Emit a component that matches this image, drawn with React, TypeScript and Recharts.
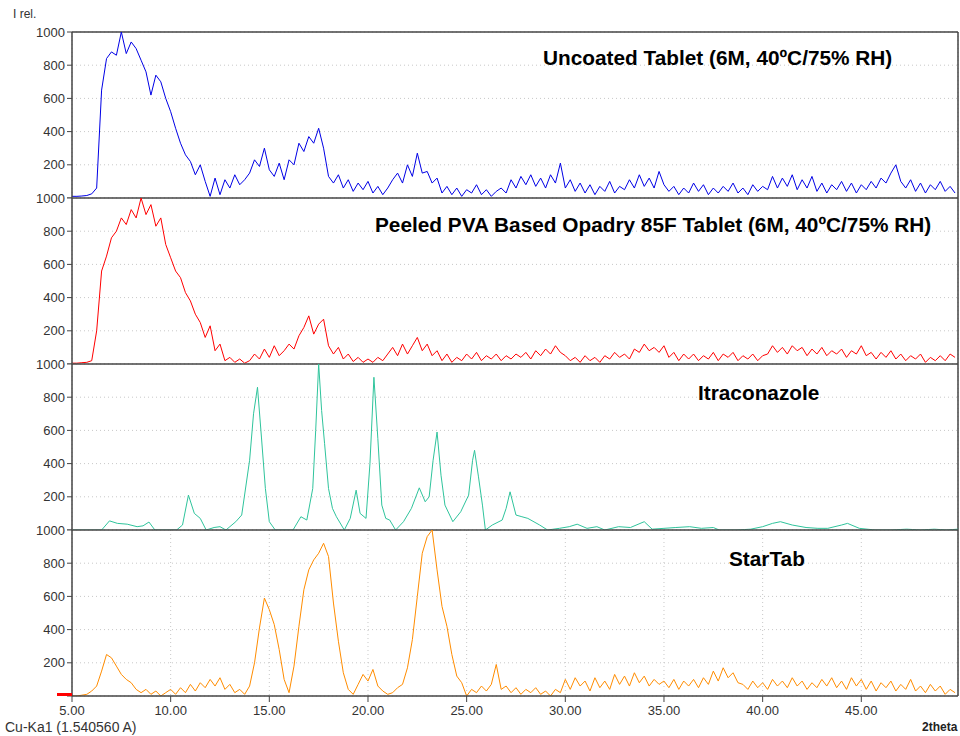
import { LineChart, Line, XAxis, YAxis, CartesianGrid, ReferenceLine } from "recharts";

// scan grid of the three noisy patterns: start angle and step (deg 2theta)
const scanStart = 5;
const scanStep = 0.25;

const uncoated = [
  10, 10, 12, 15, 25, 60, 650, 840, 880, 860, 1000, 870, 940, 900, 830, 760,
  620, 740, 700, 600, 520, 420, 330, 260, 220, 140, 200, 100, 10, 120, 20, 110,
  60, 140, 80, 110, 150, 230, 190, 300, 170, 130, 210, 110, 230, 200, 330, 280,
  370, 330, 420, 300, 130, 90, 140, 60, 110, 40, 90, 50, 100, 30, 70, 20,
  60, 110, 150, 90, 200, 130, 270, 150, 160, 90, 120, 30, 70, 20, 60, 10,
  50, 30, 80, 20, 50, 10, 40, 60, 30, 110, 60, 130, 80, 140, 70, 120,
  60, 140, 90, 210, 60, 110, 40, 90, 30, 80, 20, 70, 40, 100, 30, 70,
  50, 110, 60, 140, 70, 120, 60, 160, 80, 40, 70, 20, 60, 30, 90, 40,
  80, 20, 60, 30, 70, 40, 90, 30, 60, 20, 80, 40, 70, 50, 130, 60,
  120, 70, 140, 50, 110, 60, 130, 40, 90, 30, 80, 50, 100, 40, 90, 30,
  80, 50, 100, 60, 120, 90, 150, 200, 100, 60, 110, 40, 90, 30, 80, 50,
  100, 40, 70, 30,
];

const peeled = [
  5, 5, 8, 10, 20, 200, 560, 650, 760, 800, 880, 840, 930, 880, 1000, 900,
  960, 830, 880, 720, 640, 560, 520, 430, 380, 300, 250, 160, 230, 80, 120, 20,
  40, 10, 30, 5, 20, 60, 30, 90, 40, 110, 50, 80, 120, 90, 170, 220,
  290, 180, 240, 270, 110, 60, 100, 30, 60, 15, 40, 10, 30, 10, 40, 20,
  60, 100, 50, 120, 60, 110, 160, 80, 120, 50, 80, 20, 60, 10, 40, 20,
  60, 30, 70, 20, 50, 30, 60, 20, 50, 30, 60, 40, 70, 30, 80, 50,
  90, 60, 110, 70, 50, 20, 40, 10, 50, 20, 40, 10, 50, 30, 70, 40,
  60, 30, 90, 70, 120, 80, 100, 70, 110, 40, 70, 20, 60, 30, 60, 20,
  50, 30, 70, 20, 60, 40, 70, 20, 50, 30, 60, 20, 50, 60, 110, 70,
  100, 60, 110, 80, 100, 50, 90, 60, 100, 50, 80, 60, 90, 40, 80, 60,
  110, 50, 70, 30, 70, 40, 80, 30, 60, 20, 50, 30, 60, 10, 40, 20,
  50, 20, 60, 40,
];

const starTab = [
  0, 0, 5, 10, 30, 60, 150, 250, 230, 180, 130, 100, 80, 40, 20, 40,
  10, 30, 0, 20, 40, 10, 50, 20, 70, 30, 80, 50, 100, 60, 110, 40,
  70, 20, 40, 10, 60, 200, 410, 590, 520, 430, 280, 100, 20, 180, 420, 640,
  760, 820, 860, 920, 840, 560, 330, 140, 40, 10, 70, 130, 90, 160, 60, 30,
  10, 20, 50, 70, 170, 340, 600, 860, 960, 1000, 760, 540, 420, 250, 120, 80,
  0, 40, 20, 60, 30, 70, 190, 40, 60, 20, 50, 10, 40, 20, 50, 10,
  30, 0, 40, 20, 100, 40, 110, 60, 90, 30, 110, 50, 90, 40, 130, 70,
  120, 60, 140, 80, 120, 60, 100, 70, 90, 50, 100, 40, 90, 60, 100, 50,
  110, 70, 150, 90, 170, 110, 140, 80, 70, 40, 90, 50, 80, 40, 100, 60,
  90, 50, 110, 60, 90, 40, 80, 50, 100, 60, 110, 50, 90, 40, 110, 60,
  100, 40, 90, 30, 80, 50, 90, 30, 70, 40, 100, 30, 60, 20, 70, 30,
  60, 10, 40, 20,
];

// itraconazole is smooth with sharp peaks, read as (angle, intensity) points
const itraAngles = [
  5.0, 6.5, 6.9, 7.3, 7.8, 8.3, 8.6, 8.9, 9.2, 10.3, 10.6, 10.9, 11.2, 11.5, 11.8, 12.2,
  12.5, 12.8, 13.3, 13.6, 14.0, 14.2, 14.4, 14.6, 14.8, 15.0, 15.3, 16.2, 16.6, 16.9, 17.2, 17.35,
  17.5, 17.65, 17.8, 18.0, 18.2, 18.4, 18.8, 19.1, 19.4, 19.6, 19.9, 20.1, 20.3, 20.5, 20.7, 20.9,
  21.1, 21.4, 21.8, 22.2, 22.6, 22.9, 23.1, 23.3, 23.5, 23.7, 23.9, 24.3, 24.7, 25.1, 25.3, 25.4,
  25.6, 25.8, 25.95, 26.3, 26.8, 27.0, 27.2, 27.5, 27.8, 28.1, 28.7, 29.1, 29.7, 30.2, 30.6, 31.1,
  31.6, 32.0, 32.7, 33.3, 34.0, 34.4, 35.0, 35.6, 36.3, 36.9, 37.5, 37.8, 38.7, 39.4, 40.0, 40.5,
  40.9, 41.5, 42.2, 42.8, 43.3, 44.0, 44.3, 44.9, 45.7, 46.5, 47.3, 48.0, 48.7, 49.3, 49.9,
];
const itraconazole = [
  0, 0, 55, 40, 35, 20, 25, 48, 0, 0, 30, 210, 100, 70, 0, 15,
  20, 0, 50, 90, 420, 700, 860, 560, 250, 50, 0, 0, 80, 60, 250, 600,
  1000, 720, 520, 250, 130, 80, 0, 70, 240, 100, 70, 400, 920, 550, 150, 70,
  60, 0, 50, 130, 254, 170, 200, 420, 590, 330, 150, 50, 110, 210, 420, 480,
  320, 150, 0, 30, 60, 130, 230, 90, 80, 70, 30, 0, 10, 20, 35, 10,
  20, 0, 20, 15, 50, 5, 10, 15, 20, 10, 15, 0, 0, 5, 20, 40,
  50, 30, 15, 10, 10, 30, 40, 10, 0, 0, 5, 0, 5, 0, 5,
];

const xTicks = [5, 10, 15, 20, 25, 30, 35, 40, 45];
const yTicks = [0, 200, 400, 600, 800, 1000];

const toScan = (vals: number[]) => vals.map((v, i) => ({ x: scanStart + i * scanStep, y: v }));

const panels = [
  { name: "Uncoated Tablet (6M, 40ºC/75% RH)", color: "#0000e6", data: toScan(uncoated), labelX: 543, labelY: 46 },
  { name: "Peeled PVA Based Opadry 85F Tablet (6M, 40ºC/75% RH)", color: "#ff0000", data: toScan(peeled), labelX: 375, labelY: 213 },
  { name: "Itraconazole", color: "#2fc49c", data: itraAngles.map((a, i) => ({ x: a, y: itraconazole[i] })), labelX: 698, labelY: 381 },
  { name: "StarTab", color: "#ff8c00", data: toScan(starTab), labelX: 729, labelY: 547 },
];

const PLOT_TOP = 32;
const PANEL_H = 166;
const PAD = 6;
const font = "'Liberation Sans', Arial, sans-serif";

export default function App() {
  return (
    <div style={{ position: "absolute", left: 0, top: 0, width: 960, height: 736, background: "#fff", fontFamily: font, overflow: "hidden" }}>
      {panels.map((p, i) => {
        const last = i === panels.length - 1;
        return (
          <div key={p.name} style={{ position: "absolute", left: 0, top: PLOT_TOP + i * PANEL_H - PAD }}>
            <LineChart
              width={960}
              height={PANEL_H + PAD + (last ? 30 : 0)}
              data={p.data}
              margin={{ top: PAD, right: 2, bottom: 0, left: 0 }}
            >
              <CartesianGrid stroke="#c8c8c8" strokeDasharray="1 3" />
              <XAxis
                type="number"
                dataKey="x"
                domain={[5, 49.9]}
                ticks={xTicks}
                allowDataOverflow
                height={last ? 30 : 0}
                tick={last ? { fontSize: 13, fill: "#333", fontFamily: font } : false}
                tickFormatter={(v: number) => v.toFixed(2)}
                axisLine={last ? { stroke: "#444", strokeWidth: 1.5 } : false}
                tickLine={last ? { stroke: "#444" } : false}
                tickSize={6}
                tickMargin={4}
              />
              <YAxis
                type="number"
                domain={[0, 1000]}
                ticks={yTicks}
                allowDataOverflow
                width={72}
                tick={{ fontSize: 13, fill: "#333", fontFamily: font }}
                tickFormatter={(v: number) => (v === 0 ? "" : String(v))}
                axisLine={{ stroke: "#444", strokeWidth: 1.5 }}
                tickLine={{ stroke: "#444" }}
                tickSize={5}
                interval={0}
              />
              <ReferenceLine y={1000} stroke="#444" strokeWidth={1.5} />
              <ReferenceLine x={49.9} stroke="#444" strokeWidth={1.5} />
              <Line
                type="linear"
                dataKey="y"
                stroke={p.color}
                strokeWidth={1}
                dot={false}
                isAnimationActive={false}
              />
            </LineChart>
          </div>
        );
      })}
      {panels.map((p) => (
        <div
          key={p.name + "-label"}
          style={{ position: "absolute", left: p.labelX, top: p.labelY, fontSize: 20.8, fontWeight: "bold", color: "#000", whiteSpace: "nowrap" }}
        >
          {p.name}
        </div>
      ))}
      <div style={{ position: "absolute", left: 57, top: 693, width: 15, height: 3, background: "#ff0000" }} />
      <div style={{ position: "absolute", left: 13, top: 7, fontSize: 12, color: "#333" }}>I rel.</div>
      <div style={{ position: "absolute", left: 5, top: 719, fontSize: 14, color: "#333" }}>Cu-Ka1 (1.540560 A)</div>
      <div style={{ position: "absolute", left: 922, top: 720, fontSize: 12, fontWeight: "bold", color: "#222" }}>2theta</div>
    </div>
  );
}
